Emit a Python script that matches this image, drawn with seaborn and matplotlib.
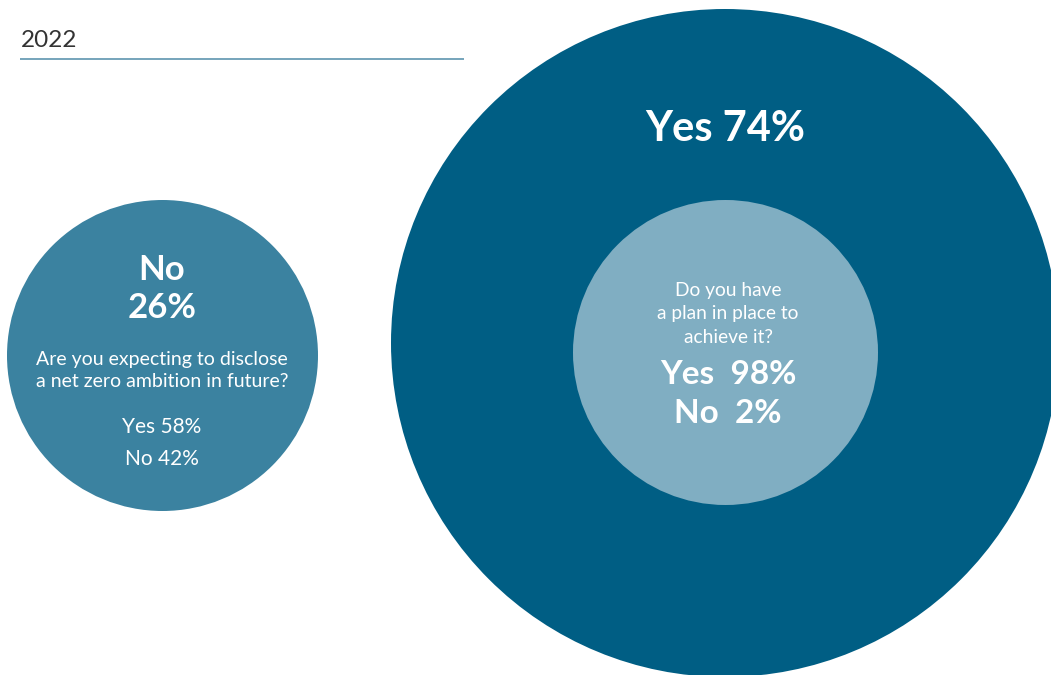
import matplotlib
matplotlib.use("Agg")
import matplotlib.pyplot as plt
from matplotlib.patches import Circle
import seaborn as sns

# Survey results
year_label = "2022"
main_question_share = {"Yes": 74, "No": 26}
plan_question = "Do you have\na plan in place to\nachieve it?"
plan_share = {"Yes": 98, "No": 2}
future_question = "Are you expecting to disclose\na net zero ambition in future?"
future_share = {"Yes": 58, "No": 42}

# Palette
dark_blue = "#005E84"
mid_blue = "#3B82A0"
light_blue = "#80AEC2"
rule_blue = "#6A9DB5"

sns.set_theme(style="white")
plt.rcParams["font.family"] = ["Lato", "DejaVu Sans"]

W, H = 1051, 675
fig = plt.figure(figsize=(W / 100, H / 100), dpi=100)
ax = fig.add_axes([0, 0, 1, 1])
ax.set_xlim(0, W)
ax.set_ylim(H, 0)
ax.axis("off")

# Header
ax.text(21, 47, year_label, fontsize=17.5, color="#333333", ha="left", va="baseline")
ax.plot([20, 464], [59, 59], color=rule_blue, lw=1.3, solid_capstyle="butt")

# Circles: "Yes" group (large), plan sub-question (inner), "No" group (small)
ax.add_patch(Circle((725, 343), 334, color=dark_blue, lw=0))
ax.add_patch(Circle((725.5, 352.5), 152.5, color=light_blue, lw=0))
ax.add_patch(Circle((162.5, 355.5), 155.5, color=mid_blue, lw=0))

white = "white"

# Large circle label
ax.text(725, 141, f"Yes {main_question_share['Yes']}%", fontsize=30, fontweight="bold",
        color=white, ha="center", va="baseline")

# Inner circle texts
for line, y in zip(plan_question.split("\n"), [296, 319, 343]):
    ax.text(728, y, line, fontsize=13.8, color=white, ha="center", va="baseline")
ax.text(728, 384, f"Yes  {plan_share['Yes']}%", fontsize=24, fontweight="bold",
        color=white, ha="center", va="baseline")
ax.text(728, 423, f"No  {plan_share['No']}%", fontsize=24, fontweight="bold",
        color=white, ha="center", va="baseline")

# Small circle texts
ax.text(162, 280, "No", fontsize=25, fontweight="bold", color=white, ha="center", va="baseline")
ax.text(162, 318, f"{main_question_share['No']}%", fontsize=25, fontweight="bold",
        color=white, ha="center", va="baseline")
for line, y in zip(future_question.split("\n"), [365, 387]):
    ax.text(162, y, line, fontsize=14, color=white, ha="center", va="baseline")
ax.text(162, 433, f"Yes {future_share['Yes']}%", fontsize=15, color=white, ha="center", va="baseline")
ax.text(162, 465, f"No {future_share['No']}%", fontsize=15, color=white, ha="center", va="baseline")

fig.savefig("out.png", dpi=100, facecolor="white")
